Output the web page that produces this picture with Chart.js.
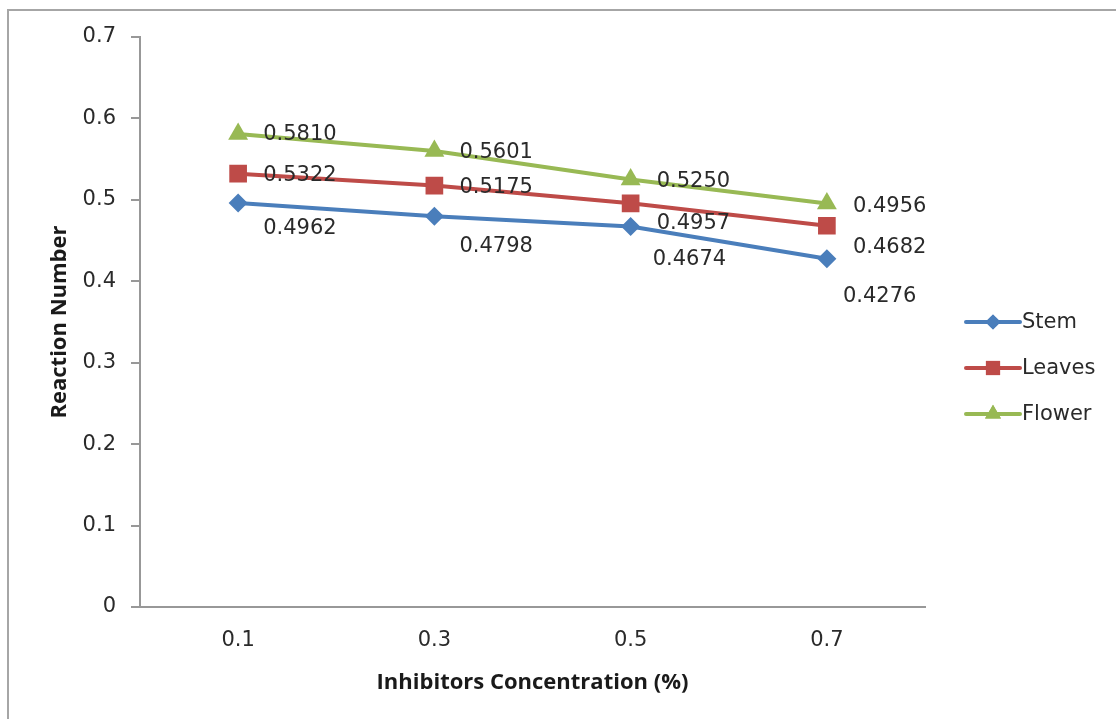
<!DOCTYPE html>
<html>
<head>
<meta charset="utf-8">
<script src="https://cdn.jsdelivr.net/npm/chart.js@4.4.1/dist/chart.umd.min.js"></script>
<style>
    html, body { margin: 0; padding: 0; background: #fff; }
    #wrap { width: 1116px; height: 719px; position: relative; }
</style>
</head>
<body>
<div id="wrap"><canvas id="chart" width="1116" height="719"></canvas></div>
<script>
// Data
const categories = ['0.1', '0.3', '0.5', '0.7'];
const stemValues = [0.4962, 0.4798, 0.4674, 0.4276];
const leavesValues = [0.5322, 0.5175, 0.4957, 0.4682];
const flowerValues = [0.5810, 0.5601, 0.5250, 0.4956];
const seriesNames = ['Stem', 'Leaves', 'Flower'];
const yTicks = [0, 0.1, 0.2, 0.3, 0.4, 0.5, 0.6, 0.7];

// Label offsets (dx, dy) from each point, per series
const labelOffsets = [
    [[25, 26], [25, 30], [22, 33], [16, 38]],
    [[25, 2], [25, 2], [26, 20], [26, 22]],
    [[25, 1], [25, 2], [26, 2], [26, 3]]
];

const colors = ['#4A7EBB', '#BE4B48', '#98B954'];
const markers = [
    { style: 'rectRot', radius: 9.5 },
    { style: 'rect', radius: 12.5 },
    { style: 'triangle', radius: 11.5 }
];

const axisColor = '#989898';
const textColor = '#2a2a2a';
const labelFont = '21px "DejaVu Sans", sans-serif';

// Outer frame (top and left edges only)
const framePlugin = {
    id: 'frame',
    beforeDraw(chart) {
        const ctx = chart.ctx;
        ctx.save();
        ctx.strokeStyle = '#a6a6a6';
        ctx.lineWidth = 2;
        ctx.beginPath();
        ctx.moveTo(8, 719);
        ctx.lineTo(8, 10);
        ctx.lineTo(1116, 10);
        ctx.stroke();
        ctx.restore();
    }
};

// Value labels next to each point
const valueLabels = {
    id: 'valueLabels',
    afterDatasetsDraw(chart) {
        const ctx = chart.ctx;
        ctx.save();
        ctx.font = labelFont;
        ctx.fillStyle = textColor;
        ctx.textAlign = 'left';
        ctx.textBaseline = 'middle';
        chart.data.datasets.forEach((ds, i) => {
            chart.getDatasetMeta(i).data.forEach((pt, j) => {
                const off = labelOffsets[i][j];
                ctx.fillText(ds.data[j].toFixed(4), pt.x + off[0], pt.y + off[1]);
            });
        });
        ctx.restore();
    }
};

// Excel-like legend: line sample with marker, then name
const lineLegend = {
    id: 'lineLegend',
    afterDraw(chart) {
        const ctx = chart.ctx;
        const x0 = 966, x1 = 1020, yStart = 322, gap = 46;
        ctx.save();
        chart.data.datasets.forEach((ds, i) => {
            const y = yStart + i * gap;
            ctx.strokeStyle = ds.borderColor;
            ctx.lineWidth = 4;
            ctx.lineCap = 'round';
            ctx.beginPath();
            ctx.moveTo(x0, y);
            ctx.lineTo(x1, y);
            ctx.stroke();
            ctx.fillStyle = ds.borderColor;
            Chart.helpers.drawPoint(ctx, {
                pointStyle: ds.pointStyle,
                radius: ds.pointRadius * 0.8,
                borderWidth: 0
            }, (x0 + x1) / 2, y);
            ctx.fill();
            ctx.fillStyle = textColor;
            ctx.font = labelFont;
            ctx.textBaseline = 'middle';
            ctx.fillText(ds.label, x1 + 2, y + 1);
        });
        ctx.restore();
    }
};

const seriesValues = [stemValues, leavesValues, flowerValues];

new Chart(document.getElementById('chart'), {
    type: 'line',
    data: {
        labels: categories,
        datasets: seriesValues.map((vals, i) => ({
            label: seriesNames[i],
            data: vals,
            borderColor: colors[i],
            backgroundColor: colors[i],
            borderWidth: 4,
            pointStyle: markers[i].style,
            pointRadius: markers[i].radius,
            pointHoverRadius: markers[i].radius,
            pointBorderWidth: 0,
            tension: 0
        }))
    },
    options: {
        responsive: false,
        animation: false,
        layout: {
            padding: { left: 42, right: 191, top: 37, bottom: 23 }
        },
        plugins: {
            legend: { display: false },
            tooltip: { enabled: false }
        },
        scales: {
            x: {
                offset: true,
                grid: { display: false, drawTicks: false },
                border: { display: true, color: axisColor, width: 2 },
                ticks: {
                    color: textColor,
                    padding: 21,
                    font: { family: '"DejaVu Sans", sans-serif', size: 21 }
                },
                title: {
                    display: true,
                    text: 'Inhibitors Concentration (%)',
                    color: '#1a1a1a',
                    padding: { top: 0, bottom: 0 },
                    font: { family: '"Open Sans", sans-serif', size: 22, weight: 'bold' }
                },
                afterFit(scale) { scale.height = 89; }
            },
            y: {
                min: 0,
                max: 0.7,
                afterBuildTicks(scale) {
                    scale.ticks = yTicks.map(v => ({ value: v }));
                },
                grid: {
                    drawOnChartArea: false,
                    drawTicks: true,
                    tickLength: 9,
                    color: axisColor,
                    lineWidth: 2
                },
                border: { display: true, color: axisColor, width: 2 },
                ticks: {
                    color: textColor,
                    padding: 15,
                    font: { family: '"DejaVu Sans", sans-serif', size: 21 },
                    callback: v => String(Math.round(v * 10) / 10)
                },
                title: {
                    display: true,
                    text: 'Reaction Number',
                    color: '#1a1a1a',
                    padding: { top: 5, bottom: 0 },
                    font: { family: '"Open Sans", sans-serif', size: 22, weight: 'bold' }
                },
                afterFit(scale) { scale.width = 98; }
            }
        }
    },
    plugins: [framePlugin, valueLabels, lineLegend]
});
</script>
</body>
</html>
